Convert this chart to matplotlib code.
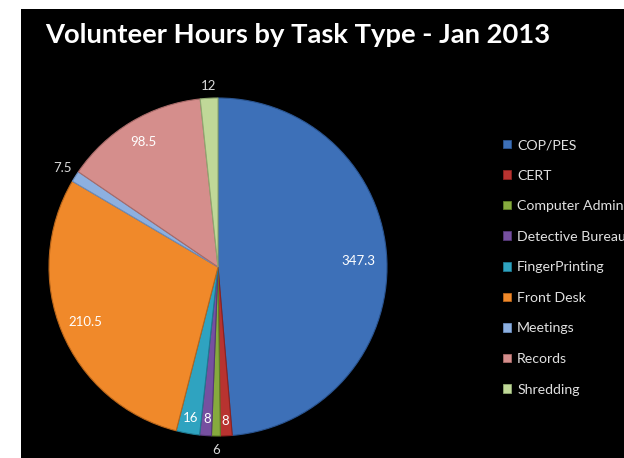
import numpy as np
import matplotlib.pyplot as plt
from matplotlib.patches import Rectangle

# data
tasks = ["COP/PES", "CERT", "Computer Admin", "Detective Bureau", "FingerPrinting",
         "Front Desk", "Meetings", "Records", "Shredding"]
hours = [347.3, 8, 6, 8, 16, 210.5, 7.5, 98.5, 12]
value_labels = ["347.3", "8", "6", "8", "16", "210.5", "7.5", "98.5", "12"]

# styling
colors = ["#3D70B8", "#B83330", "#86AA3E", "#7650A0", "#2FA3C0",
          "#F0892A", "#8DB0E0", "#D58E8C", "#C0D898"]
edges = ["#2A5490", "#8C2220", "#5F7E28", "#563878", "#1F7A92",
         "#B8651A", "#6A8CBC", "#A86A68", "#8FA870"]
label_r = [0.83, 0.91, 1.08, 0.90, 0.91, 0.85, 1.09, 0.86, 1.07]
label_col = ["white", "white", "#D9D9D9", "white", "white",
             "white", "#D9D9D9", "white", "#D9D9D9"]

plt.rcParams['font.family'] = ['Lato', 'DejaVu Sans']

W, H = 624, 458
fig = plt.figure(figsize=(W / 100, H / 100), dpi=100, facecolor="white")
fig.patches.append(Rectangle((21 / W, 0), 1 - 21 / W, 449 / H, transform=fig.transFigure,
                             facecolor="black", edgecolor="none", zorder=-5))

# pie axes, center (218, 267) px from top-left, radius 169 px
cx, cy, r = 218, 267, 169
ax = fig.add_axes([(cx - r) / W, (H - cy - r) / H, 2 * r / W, 2 * r / H], zorder=2)
ax.set_facecolor("none")
wedges, _ = ax.pie(hours, colors=colors, startangle=90, counterclock=False,
                   wedgeprops=dict(linewidth=0.8))
for w, ec in zip(wedges, edges):
    w.set_edgecolor(ec)
ax.set_xlim(-1, 1)
ax.set_ylim(-1, 1)
ax.set_aspect("equal")
ax.axis("off")

for w, txt, d, c in zip(wedges, value_labels, label_r, label_col):
    mid = np.deg2rad((w.theta1 + w.theta2) / 2)
    ax.text(d * np.cos(mid), d * np.sin(mid), txt, ha="center", va="center",
            color=c, fontsize=9.5, clip_on=False)

fig.text(45 / W, 1 - 35 / H, "Volunteer Hours by Task Type - Jan 2013", color="white",
         fontsize=19.7, fontweight="bold", ha="left", va="center", zorder=3)

# legend runs past the chart's right edge, as in the original
handles = [Rectangle((0, 0), 1, 1, facecolor=c, edgecolor=e, linewidth=0.6)
           for c, e in zip(colors, edges)]
leg = fig.legend(handles, tasks, loc="upper left", bbox_to_anchor=(496 / W, 1 - 132 / H),
                 frameon=False, fontsize=10.2, labelcolor="#E0E0E0", handlelength=0.55,
                 handleheight=0.55, handletextpad=0.45, labelspacing=1.31, borderpad=0)
leg.set_zorder(3)

fig.savefig("out.png", dpi=100, facecolor="white")
